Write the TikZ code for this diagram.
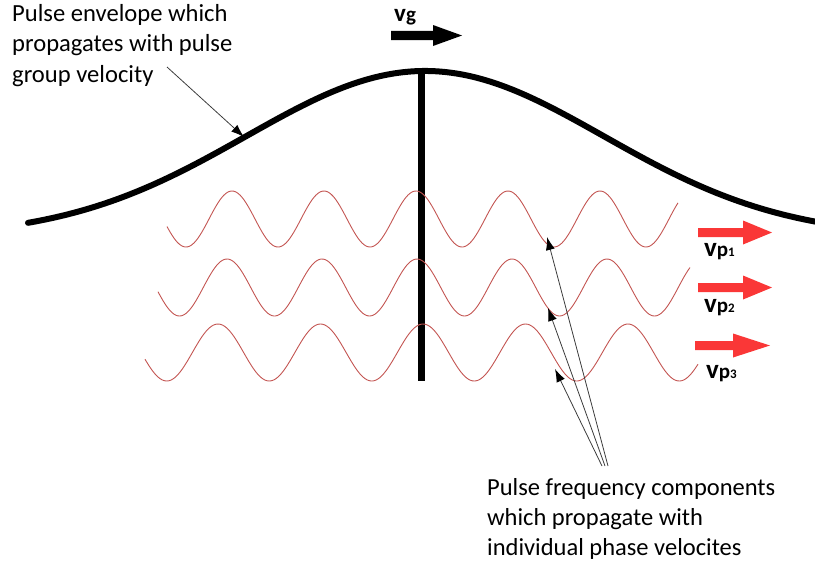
\documentclass[tikz,border=0pt]{standalone}
\usepackage{fontspec}
\setmainfont{Carlito}
\usetikzlibrary{arrows.meta}
\definecolor{wavered}{RGB}{195,85,82}
\definecolor{arrowred}{RGB}{250,55,55}
\definecolor{annotgray}{RGB}{60,60,60}
\newcommand\fatarrow[7]{% x0 x1 x2 yc shafthalf headhalf color
  \fill[#7] (#1,#4-#5) -- (#2,#4-#5) -- (#2,#4-#6) -- (#3,#4) -- (#2,#4+#6) -- (#2,#4+#5) -- (#1,#4+#5) -- cycle;}
\newcommand\vplabel[1]{{\bfseries\fontsize{27}{27}\selectfont v\fontsize{21}{21}\selectfont p\fontsize{13}{13}\selectfont #1}}
\begin{document}
\begin{tikzpicture}[x=1pt,y=-1pt,
  envelope/.style={line width=6pt, black, line cap=round, line join=round},
  stem/.style={line width=7pt, black},
  wave/.style={line width=0.9pt, wavered},
  annot/.style={line width=0.8pt, annotgray, -{Latex[length=13pt,width=9pt,black]}},
  caption/.style={inner sep=0pt, anchor=base west},
  vlab/.style={inner sep=0pt, anchor=base west}]
\useasboundingbox (0,0) rectangle (815,566);

% envelope
\draw[envelope] plot[domain=28:830, samples=200] (\x, {237 - 166*exp(-((\x-425)/179)^2/2)});
% centre line
\draw[stem] (421,71) -- (421,381);

% phase waves
\draw[wave] plot[domain=167:678, samples=300] (\x, {219 - 28*cos((\x-416)/92*360)});
\draw[wave] plot[domain=158:690, samples=300] (\x, {287.5 - 28.5*cos((\x-417)/95*360)});
\draw[wave] plot[domain=145:698, samples=300] (\x, {352.5 - 28.5*cos((\x-423)/102.5*360)});

% group velocity arrow and label
\fatarrow{391}{433}{462}{35.5}{4.7}{10.5}{black}
\node[vlab] (vg) at (394,21) {{\bfseries\fontsize{25}{25}\selectfont v\fontsize{21}{21}\selectfont g}};

% phase velocity arrows and labels
\fatarrow{698}{743}{772}{232.5}{4.5}{12}{arrowred}
\fatarrow{698}{743}{772}{287.5}{4.5}{12}{arrowred}
\fatarrow{695}{733}{770}{345.5}{4.5}{12}{arrowred}
\node[vlab] (vp1) at (704,256) {\vplabel{1}};
\node[vlab] (vp2) at (704,312) {\vplabel{2}};
\node[vlab] (vp3) at (706,378) {\vplabel{3}};

% captions
\node[caption, font=\fontsize{24.6}{30.5}\selectfont] (envlabel) at (12,21) {\begin{tabular}[t]{@{}l@{}}Pulse envelope which\\propagates with pulse\\group velocity\end{tabular}};
\node[caption, font=\fontsize{24.5}{30}\selectfont] (freqlabel) at (487,495) {\begin{tabular}[t]{@{}l@{}}Pulse frequency components\\which propagate with\\individual phase velocites\end{tabular}};

% annotation arrows
\coordinate (envtail) at (167,67);
\coordinate (envtip) at (244,137);
\draw[annot] (envtail) -- (envtip);
\coordinate (ftail1) at (608,466);
\coordinate (ftail2) at (605,466);
\coordinate (ftail3) at (602,466);
\coordinate (ftip1) at (547,237);
\coordinate (ftip2) at (548,308);
\coordinate (ftip3) at (555,369);
\draw[annot] (ftail1) -- (ftip1);
\draw[annot] (ftail2) -- (ftip2);
\draw[annot] (ftail3) -- (ftip3);
\end{tikzpicture}
\end{document}
